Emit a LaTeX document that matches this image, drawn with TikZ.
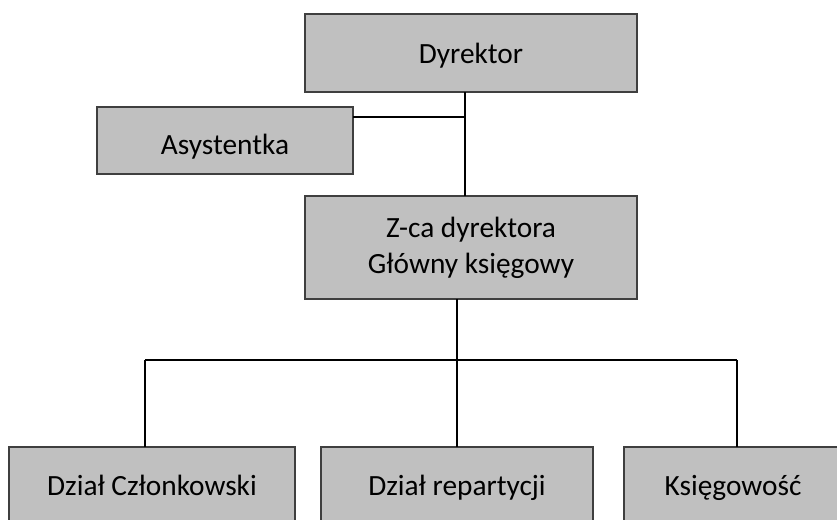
\documentclass[tikz,border=0pt]{standalone}
\usepackage{fontspec}
\setmainfont{Carlito}
\definecolor{boxfill}{HTML}{C0C0C0}
\definecolor{boxline}{HTML}{3F3F3F}
\begin{document}
\begin{tikzpicture}[x=0.75pt,y=-0.75pt,
  orgbox/.style={draw=boxline,fill=boxfill,line width=1.5pt,inner sep=0pt,outer sep=0pt,
    align=center,font=\fontsize{22}{27}\selectfont},
  conn/.style={draw=black,line width=1.5pt}]
\useasboundingbox (0,0) rectangle (837,519);
\clip (0,0) rectangle (837,519);
\node[orgbox,minimum width=249pt,minimum height=58.5pt,text height=18pt,text depth=3pt] (dyr) at (471,53) {Dyrektor};
\node[orgbox,minimum width=192pt,minimum height=50.25pt,text height=22pt,text depth=1.75pt] (asy) at (225,140.5) {Asystentka};
\node[orgbox,minimum width=249pt,minimum height=77.25pt] (zca) at (471,247.5) {Z-ca dyrektora\\Główny księgowy};
\node[orgbox,minimum width=214.5pt,minimum height=60pt,text height=16pt,text depth=4pt] (d1) at (152,487) {Dział Członkowski};
\node[orgbox,minimum width=204pt,minimum height=60pt,text height=16pt,text depth=4pt] (d2) at (457,487) {Dział repartycji};
\node[orgbox,minimum width=163.5pt,minimum height=60pt,text height=16pt,text depth=4pt] (d3) at (733,487) {Księgowość};
\coordinate (jx) at (465,117);
\coordinate (bus) at (457,360);
\draw[conn] (dyr.south -| jx) -- (zca.north -| jx);
\draw[conn] (asy.east |- jx) -- (jx);
\draw[conn] (zca.south -| bus) -- (bus);
\draw[conn] (bus -| 145,0) -- (bus -| 737,0);
\draw[conn] (bus -| 145,0) -- (d1.north -| 145,0);
\draw[conn] (bus) -- (d2.north);
\draw[conn] (bus -| 737,0) -- (d3.north -| 737,0);
\end{tikzpicture}
\end{document}
